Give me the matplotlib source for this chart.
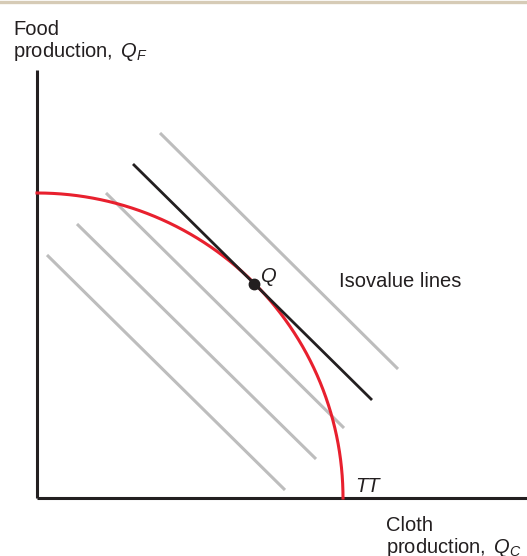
import numpy as np
import matplotlib
matplotlib.use("Agg")
import matplotlib.pyplot as plt
from matplotlib.lines import Line2D

plt.rcParams['font.family'] = ['Liberation Sans', 'DejaVu Sans']
plt.rcParams['mathtext.fontset'] = 'custom'
plt.rcParams['mathtext.rm'] = 'Liberation Sans'
plt.rcParams['mathtext.it'] = 'Liberation Sans:italic'

# Data (economic coordinates: cloth on x, food on y)
frontier_rx = 306.0   # max cloth output
frontier_ry = 305.0   # max food output
isovalue_x0 = [123, 69, 40, 10]
isovalue_y0 = [365, 305, 274, 243]
isovalue_x1 = [361, 307, 279, 248]
isovalue_y1 = [129, 70, 39, 8]
budget_x = [96, 335]
budget_y = [334, 98]
q_point = (217, 214)

W, H = 527, 556
fig = plt.figure(figsize=(W / 100, H / 100), dpi=100)
# axes origin at pixel (37, 498)
ox, oy = 37, 498
ax = fig.add_axes([0, 0, 1, 1])
ax.set_xlim(-ox, W - ox)
ax.set_ylim(-(H - oy), oy)
ax.axis('off')

# top beige rule
fig.add_artist(Line2D([0, 1], [1 - 1.5 / H, 1 - 1.5 / H], transform=fig.transFigure,
                      color='#d6cbb6', lw=2.4))

# axes lines
ax.plot([0, 0], [0, oy - 70], color='#231f20', lw=2.2, solid_capstyle='butt')
ax.plot([0, W - ox], [0, 0], color='#231f20', lw=2.2, solid_capstyle='butt')

# isovalue lines
for x0, y0, x1, y1 in zip(isovalue_x0, isovalue_y0, isovalue_x1, isovalue_y1):
    ax.plot([x0, x1], [y0, y1], color='#bdbdbd', lw=2.2, solid_capstyle='butt')

# frontier
t = np.linspace(0, np.pi / 2, 300)
ax.plot(frontier_rx * np.sin(t), frontier_ry * np.cos(t), color='#e8202e', lw=2.2)

# tangent line
ax.plot(budget_x, budget_y, color='#231f20', lw=2.0, solid_capstyle='butt')
ax.plot(*q_point, 'o', color='#231f20', ms=7.5)

fs = 14.5
c = '#231f20'
ax.text(224, 216, 'Q', fontsize=fs, style='italic', color=c, ha='left', va='baseline')
ax.text(302, 211, 'Isovalue lines', fontsize=fs, color=c, ha='left', va='baseline')
ax.text(318, 6, 'TT', fontsize=fs, style='italic', color=c, ha='left', va='baseline')
ax.text(-24, 463, 'Food', fontsize=fs, color=c, ha='left', va='baseline')
ax.text(-24, 441, 'production, $\\,Q_F$', fontsize=fs, color=c, ha='left', va='baseline')
ax.text(349, -33, 'Cloth', fontsize=fs, color=c, ha='left', va='baseline')
ax.text(349, -55, 'production, $\\,Q_C$', fontsize=fs, color=c, ha='left', va='baseline')

fig.savefig('out.png', dpi=100)
